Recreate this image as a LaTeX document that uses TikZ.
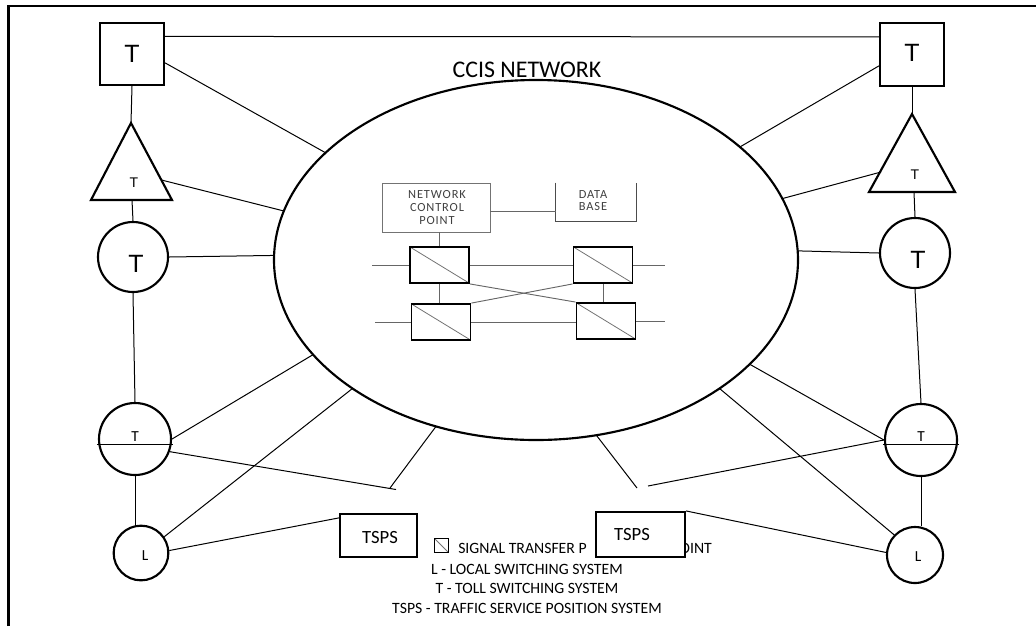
\documentclass[tikz,border=0pt]{standalone}
\usepackage{fontspec}
\setmainfont{Carlito}
\newfontfamily\arialf{Liberation Sans}
\usetikzlibrary{shapes.geometric,calc}
\begin{document}
\begin{tikzpicture}[x=0.75pt,y=-0.75pt,
  nodeline/.style={draw,line width=1.6pt},
  conn/.style={line width=0.75pt},
  innerln/.style={draw=black!60,line width=0.7pt},
  sqbox/.style={nodeline,rectangle,inner sep=0pt},
  rnd/.style={nodeline,circle,inner sep=0pt},
  bigT/.style={inner sep=0pt,font=\arialf\fontsize{18.75}{20}\selectfont},
  smallT/.style={inner sep=0pt,font=\arialf\fontsize{10.5}{12}\selectfont},
  smallC/.style={inner sep=0pt,font=\fontsize{11.5}{13}\selectfont},
  tspstext/.style={inner sep=0pt,font=\fontsize{14}{16}\selectfont},
  smalltext/.style={inner sep=0pt,align=center,text=black!75},
  diag/.style={path picture={\draw[black!55,line width=0.6pt] (path picture bounding box.north west) -- (path picture bounding box.south east);}},
  stp/.style={draw,line width=1.4pt,rectangle,inner sep=0pt,minimum width=44.25pt,minimum height=27pt,diag},
  legend/.style={inner sep=0pt,font=\fontsize{11.8}{13}\selectfont},
]
\useasboundingbox (0,0) rectangle (1036,626);
% frame
\draw[line width=1.9pt] (8.5,626) -- (8.5,6) -- (1036,6);

% network ellipse
\node[draw,ellipse,line width=1.6pt,inner sep=0pt,outer sep=0pt,minimum width=393pt,minimum height=270pt] (net) at (536,260) {};
\node[inner sep=0pt,font=\fontsize{17.9}{20}\selectfont] (ccis) at (527,70) {CCIS NETWORK};

% left column
\node[sqbox,minimum width=48pt,minimum height=46.5pt] (lsq) at (132,54) {};
\node[bigT] (lsqT) at (132,54) {T};
\draw[line width=1.6pt] (131,123) coordinate (ltA) -- (172,200) -- (91,200) -- cycle;
\coordinate (ltB) at (132,200);
\coordinate (ltR) at (161.5,180);
\node[smallT] (ltT) at (134,183) {T};
\node[rnd,minimum size=52.5pt] (lc) at (133,257) {};
\node[bigT] (lcT) at (136,264) {T};
\node[rnd,minimum size=54pt] (lT) at (135,439) {};
\draw[conn] ($(lT.west)+(-1,5)$) -- ($(lT.east)+(1,5)$);
\node[smallC] (lTT) at (135,437) {T};
\node[rnd,minimum size=41pt] (lL) at (141,553) {};
\node[smallC] (lLL) at (145,556) {L};

% right column
\node[sqbox,minimum width=48pt,minimum height=47pt] (rsq) at (912,54.5) {};
\node[bigT] (rsqT) at (912,53) {T};
\draw[line width=1.6pt] (912,114) coordinate (rtA) -- (955,192) -- (869,192) -- cycle;
\coordinate (rtB) at (914,192);
\coordinate (rtL) at (881,172);
\node[smallT] (rtT) at (915,175) {T};
\node[rnd,minimum size=52.5pt] (rc) at (915,253) {};
\node[bigT] (rcT) at (918,260) {T};
\node[rnd,minimum size=54pt] (rT) at (921,440) {};
\draw[conn] ($(rT.west)+(-1,4)$) -- ($(rT.east)+(1,4)$);
\node[smallC] (rTT) at (921,437) {T};
\node[rnd,minimum size=42pt] (rL) at (915,555) {};
\node[smallC] (rLL) at (918,557) {L};

% TSPS and legend
\node[sqbox,minimum width=57.75pt,minimum height=32.25pt] (ltsps) at (378.5,535.5) {};
\node[tspstext] (ltspsT) at (380,537) {TSPS};
\node[draw,line width=0.7pt,minimum size=10.5pt,inner sep=0pt,diag] (legsym) at (441,545) {};
\node[legend,anchor=west] (leg1) at (458,548) {SIGNAL TRANSFER P\hspace{69.75pt}OINT};
\node[legend] (leg2) at (527,569) {L - LOCAL SWITCHING SYSTEM};
\node[legend] (leg3) at (527,588) {T - TOLL SWITCHING SYSTEM};
\node[legend] (leg4) at (527,608) {TSPS - TRAFFIC SERVICE POSITION SYSTEM};
\node[sqbox,fill=white,minimum width=66.75pt,minimum height=33.75pt] (rtsps) at (640.5,534.5) {};
\node[tspstext] (rtspsT) at (632,534) {TSPS};

% inner network
\node[draw=black!55,line width=0.7pt,minimum width=81pt,minimum height=36.75pt,inner sep=0pt] (ncp) at (436,207.5) {};
\node[smalltext,font=\fontsize{9.3}{9.4}\selectfont\addfontfeature{LetterSpace=7}] (ncpT) at (437,207.5) {NETWORK\\CONTROL\\POINT};
\node[inner sep=0pt,minimum width=60pt,minimum height=28.5pt] (db) at (596,202) {};
\draw[draw=black!70,line width=0.7pt] (db.north west) -- (db.south west) -- (db.south east) -- (db.north east);
\node[smalltext,font=\fontsize{9.3}{8.8}\selectfont\addfontfeature{LetterSpace=7}] (dbT) at (593,200.5) {DATA\\BASE};
\node[stp] (s1) at (439.5,265) {};
\node[stp] (s2) at (603,265) {};
\node[stp] (s3) at (441,322) {};
\node[stp] (s4) at (606,321) {};
\coordinate (s1stub) at (372,265);
\coordinate (s2stub) at (665,265);
\coordinate (s3stub) at (375,322);
\coordinate (s4stub) at (665,321);
\draw[innerln] (s1stub) -- (s1.west);
\draw[innerln] (s1.east) -- (s2.west);
\draw[innerln] (s2.east) -- (s2stub);
\draw[innerln] (s3stub) -- (s3.west);
\draw[innerln] (s3.east) -- (s3.east -| s4.west);
\draw[innerln] (s4.east) -- (s4stub);
\draw[innerln] (s1.south) -- (s1.south |- s3.north);
\draw[innerln] (s2.south) -- (s2.south |- s4.north);
\draw[innerln] (s1.south east) -- (s4.north west);
\draw[innerln] (s3.north east) -- (s2.south west);
\draw[innerln] (s1.north |- ncp.south) -- (s1.north);
\draw[innerln] (ncp.-4) -- (ncp.-4 -| db.west);

% outer connectors
\draw[conn] (lsq.28) -- (rsq.152);
\draw[conn] (lsq.-15) -- (net.153.4);
\draw[conn] (rsq.199) -- (net.29.3);
\draw[conn] (ltR) -- (net.169);
\draw[conn] (rtL) -- (net.14.8);
\draw[conn] (lc.east) -- (net.179);
\draw[conn] (rc.west) -- (net.2.2);
\draw[conn] (lsq.south) -- (ltA);
\draw[conn] (ltB) -- (lc.north);
\draw[conn] (lc.south) -- (lT.north);
\draw[conn] (lT.south) -- (lT.south |- lL.north);
\draw[conn] (rsq.south) -- (rtA);
\draw[conn] (rtB) -- (rc.north);
\draw[conn] (rc.south) -- (rT.north);
\draw[conn] (rT.south) -- (rT.south |- rL.north);

\draw[conn] (lT.east) -- (net.203.1);
\coordinate (jL) at (390,488);
\coordinate (jLend) at (396,489.5);
\draw[conn] (lT.-20) -- (jLend);
\draw[conn] (jL) -- (net.239.1);
\draw[conn] (lL.35) -- (net.215.9);
\draw[conn] (lL.5) -- (ltsps.156);
\draw[conn] (net.334.9) -- (rT.west);
\draw[conn] (net.325.8) -- (rL.136);
\coordinate (jR1) at (637,488);
\coordinate (jR2) at (648,486);
\draw[conn] (net.289.3) -- (jR1);
\draw[conn] (rT.west) -- (jR2);
\draw[conn] (rL.175) -- (rtsps.north east);
\end{tikzpicture}
\end{document}
